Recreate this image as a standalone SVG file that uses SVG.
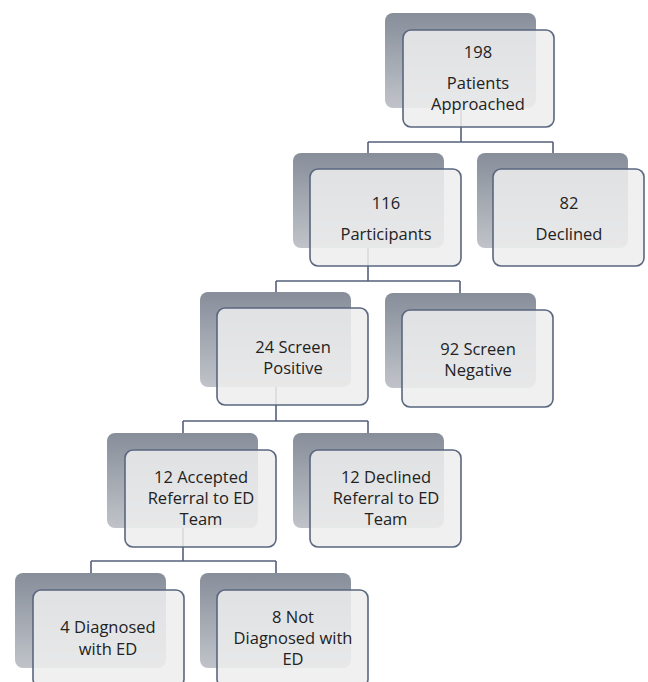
<svg xmlns="http://www.w3.org/2000/svg" width="648" height="682" viewBox="0 0 648 682">
<defs>
<linearGradient id="backGrad" x1="0" y1="0" x2="0" y2="1">
<stop offset="0" stop-color="#878e9a"/>
<stop offset="1" stop-color="#c0c3c9"/>
</linearGradient>
<style>
.back{fill:url(#backGrad);}
.front{fill:#ededed;fill-opacity:0.86;stroke:#5a6780;stroke-width:1.6;}
.conn{fill:none;stroke:#56607a;stroke-width:1.6;}
text{font-family:"Open Sans","Liberation Sans",sans-serif;font-size:16.5px;fill:#222222;text-anchor:middle;}
</style>
</defs>
<rect width="648" height="682" fill="#ffffff"/>
<g id="connectors">
<path class="conn" d="M461,108 V142 M368,142 H553 M368,142 V153 M553,142 V153"/>
<path class="conn" d="M368,248 V281 M276,281 H460 M276,281 V292 M460,281 V293"/>
<path class="conn" d="M276,387 V421 M183,421 H368 M183,421 V433 M368,421 V433"/>
<path class="conn" d="M183,528 V561 M91,561 H276 M91,561 V573 M276,561 V573"/>
</g>
<g id="n198">
<rect class="back" x="385" y="13" width="151" height="95" rx="8"/>
<rect class="front" x="403" y="30" width="151" height="97" rx="8"/>
<text x="478" y="58">198</text>
<text x="478" y="89">Patients</text>
<text x="478" y="110">Approached</text>
</g>
<g id="n116">
<rect class="back" x="293" y="153" width="151" height="95" rx="8"/>
<rect class="front" x="310" y="169" width="151" height="97" rx="8"/>
<text x="386" y="209">116</text>
<text x="386" y="240">Participants</text>
</g>
<g id="n82">
<rect class="back" x="477" y="153" width="151" height="95" rx="8"/>
<rect class="front" x="493" y="169" width="151" height="97" rx="8"/>
<text x="569" y="209">82</text>
<text x="569" y="240">Declined</text>
</g>
<g id="n24">
<rect class="back" x="200" y="292" width="151" height="95" rx="8"/>
<rect class="front" x="217" y="308" width="151" height="97" rx="8"/>
<text x="293" y="353">24 Screen</text>
<text x="293" y="374">Positive</text>
</g>
<g id="n92">
<rect class="back" x="385" y="293" width="151" height="95" rx="8"/>
<rect class="front" x="402" y="310" width="151" height="97" rx="8"/>
<text x="478" y="355">92 Screen</text>
<text x="478" y="376">Negative</text>
</g>
<g id="n12a">
<rect class="back" x="107" y="433" width="151" height="95" rx="8"/>
<rect class="front" x="125" y="450" width="151" height="97" rx="8"/>
<text x="201" y="483">12 Accepted</text>
<text x="201" y="504">Referral to ED</text>
<text x="201" y="525">Team</text>
</g>
<g id="n12d">
<rect class="back" x="293" y="433" width="151" height="95" rx="8"/>
<rect class="front" x="310" y="450" width="151" height="97" rx="8"/>
<text x="386" y="483">12 Declined</text>
<text x="386" y="504">Referral to ED</text>
<text x="386" y="525">Team</text>
</g>
<g id="n4">
<rect class="back" x="15" y="573" width="151" height="95" rx="8"/>
<rect class="front" x="33" y="590" width="151" height="97" rx="8"/>
<text x="108" y="633">4 Diagnosed</text>
<text x="108" y="655">with ED</text>
</g>
<g id="n8">
<rect class="back" x="200" y="573" width="151" height="95" rx="8"/>
<rect class="front" x="217" y="590" width="151" height="97" rx="8"/>
<text x="293" y="623">8 Not</text>
<text x="293" y="644">Diagnosed with</text>
<text x="293" y="665">ED</text>
</g>
</svg>
